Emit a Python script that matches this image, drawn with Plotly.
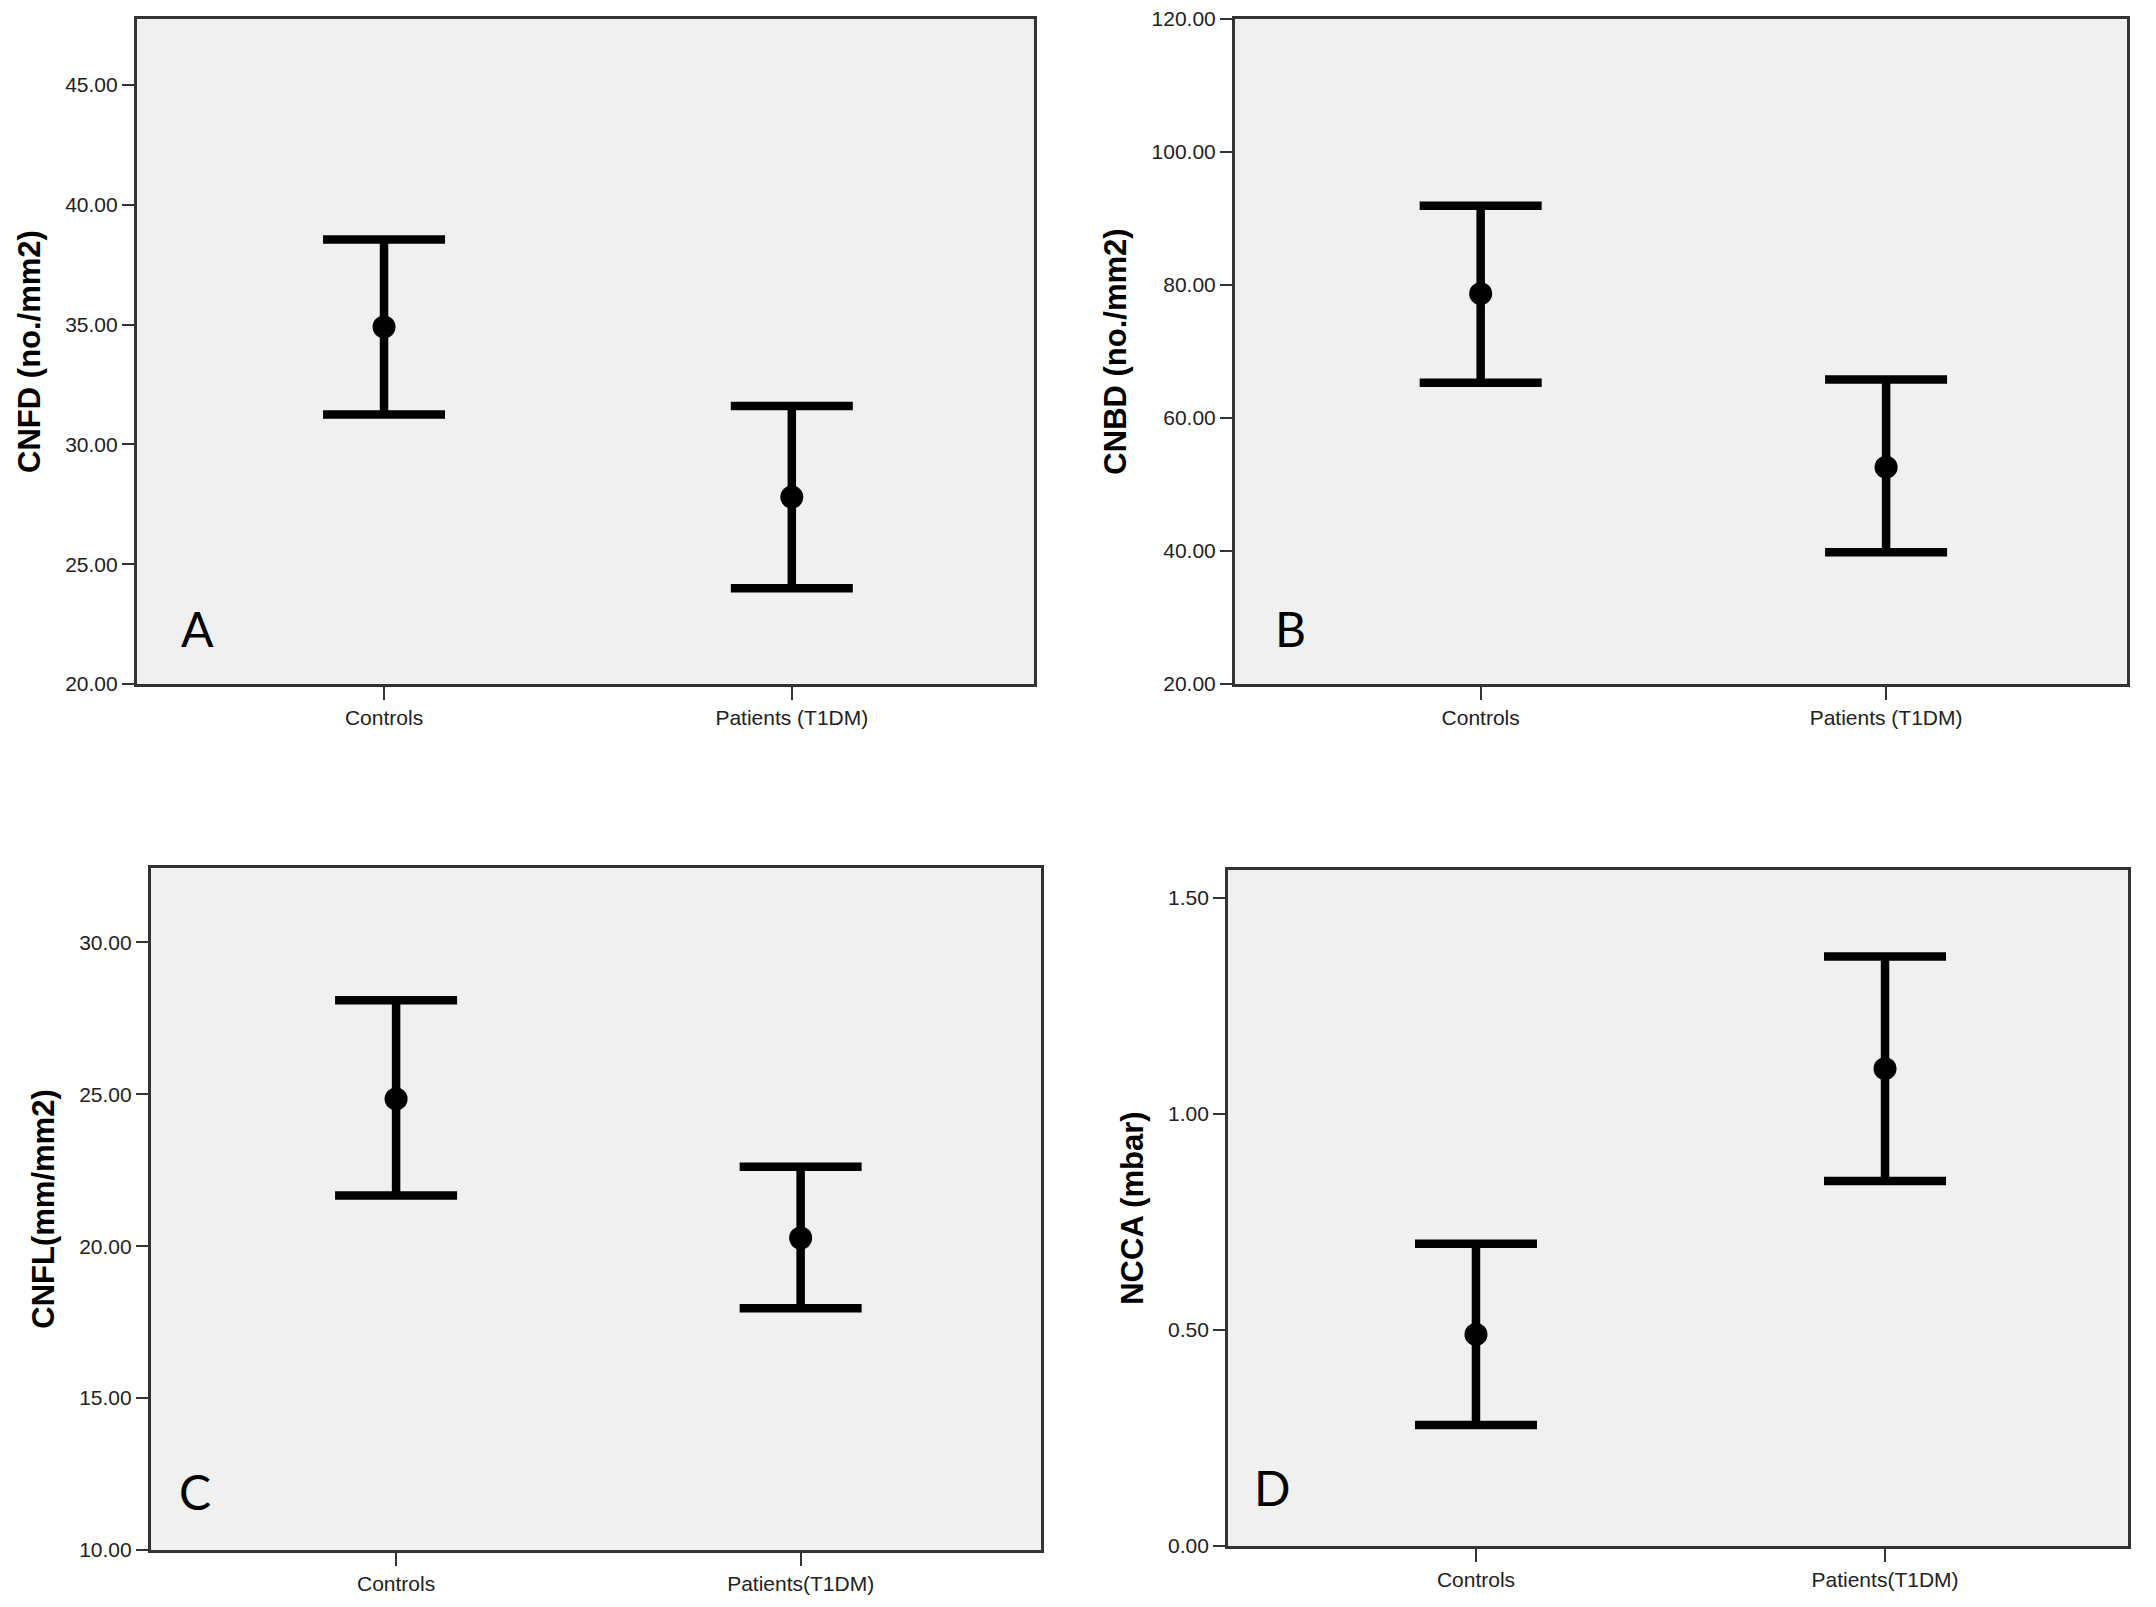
import plotly.graph_objects as go

# groups on the x axis
groups_top = ["Controls", "Patients (T1DM)"]
groups_bottom = ["Controls", "Patients(T1DM)"]

# means and 95% CI bounds
cnfd_mean = [34.9, 27.8]
cnfd_low = [31.25, 24.0]
cnfd_high = [38.55, 31.6]

cnbd_mean = [78.7, 52.6]
cnbd_low = [65.3, 39.8]
cnbd_high = [91.9, 65.8]

cnfl_mean = [24.85, 20.27]
cnfl_low = [21.67, 17.96]
cnfl_high = [28.1, 22.62]

ncca_mean = [0.49, 1.105]
ncca_low = [0.28, 0.845]
ncca_high = [0.70, 1.365]

FONT = "Liberation Sans, Arial"

panels = [
    # groups, mean, low, high, title, letter, y range, dtick, x domain, y domain, letter pos
    (groups_top, cnfd_mean, cnfd_low, cnfd_high, "CNFD (no./mm2)", "A",
     [20, 47.75], 5, [0.0598, 0.4759], [0.5793, 0.9932], (0.067, 0.083)),
    (groups_top, cnbd_mean, cnbd_low, cnbd_high, "CNBD (no./mm2)", "B",
     [20, 120], 20, [0.5691, 0.9828], [0.5793, 0.9932], (0.062, 0.083)),
    (groups_bottom, cnfl_mean, cnfl_low, cnfl_high, "CNFL(mm/mm2)", "C",
     [10, 32.45], 5, [0.0663, 0.4791], [0.0405, 0.4648], (0.049, 0.086)),
    (groups_bottom, ncca_mean, ncca_low, ncca_high, "NCCA (mbar)", "D",
     [0, 1.565], 0.5, [0.5659, 0.9833], [0.0429, 0.4636], (0.049, 0.086)),
]

fig = go.Figure()
layout = {}
annotations = []

for i, (grp, mean, low, high, title, letter, yr, dt, xd, yd, lp) in enumerate(panels):
    n = "" if i == 0 else str(i + 1)
    fig.add_trace(go.Scatter(
        x=grp, y=mean,
        mode="markers",
        marker=dict(color="black", size=23),
        error_y=dict(
            type="data", symmetric=False,
            array=[h - m for h, m in zip(high, mean)],
            arrayminus=[m - l for m, l in zip(mean, low)],
            color="black", thickness=8.5, width=61,
        ),
        xaxis="x" + n, yaxis="y" + n,
        showlegend=False,
    ))
    layout["xaxis" + n] = dict(
        domain=xd, anchor="y" + n, type="category",
        range=[-0.606, 1.594], automargin=False,
        showline=True, mirror=True, linecolor="#333333", linewidth=3,
        ticks="outside", ticklen=13, tickwidth=2, tickcolor="#333333",
        showgrid=False, zeroline=False,
        tickfont=dict(family=FONT, size=21, color="#222222"),
    )
    layout["yaxis" + n] = dict(
        domain=yd, anchor="x" + n,
        range=yr, dtick=dt, tick0=0, tickformat=".2f", automargin=False,
        showline=True, mirror=True, linecolor="#333333", linewidth=3,
        ticks="outside", ticklen=12, tickwidth=2, tickcolor="#333333",
        showgrid=False, zeroline=False, ticklabeloverflow="allow",
        tickfont=dict(family=FONT, size=21, color="#222222"),
        title=dict(text="<b>" + title + "</b>", standoff=16,
                   font=dict(family=FONT, size=31, color="black")),
    )
    annotations.append(dict(
        text=letter, x=lp[0], y=lp[1],
        xref="x" + n + " domain", yref="y" + n + " domain",
        xanchor="center", yanchor="middle", showarrow=False,
        font=dict(family="Lato, Open Sans", size=48, color="black"),
    ))

fig.update_layout(
    **layout,
    annotations=annotations,
    width=2156, height=1607,
    margin=dict(l=0, r=0, t=0, b=0),
    paper_bgcolor="white",
    plot_bgcolor="#f0f0f0",
)

fig.write_html("out.html")
